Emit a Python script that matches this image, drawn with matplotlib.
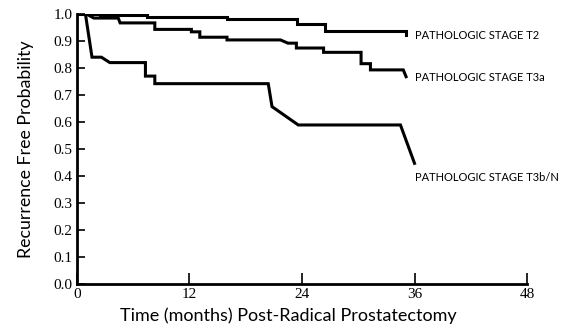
import numpy as np
import matplotlib
matplotlib.use("Agg")
import matplotlib.pyplot as plt

# curves (months, probability); repeated times give the vertical drops
t2_time = [0, 2.5, 2.5, 7.5, 7.5, 16, 16, 23.5, 23.5, 26.5, 26.5, 35.1, 35.1]
t2_prob = [1.0, 1.0, 0.995, 0.995, 0.99, 0.99, 0.98, 0.98, 0.962, 0.962, 0.938, 0.938, 0.923]

t3a_time = [0, 1.0, 1.8, 4.4, 4.6, 8.3, 8.3, 12.2, 12.2, 13.1, 13.1, 16, 16, 21.7, 22.5,
            23.4, 23.4, 26.3, 26.3, 30.3, 30.3, 31.3, 31.3, 34.8, 35.1]
t3a_prob = [1.0, 1.0, 0.985, 0.985, 0.967, 0.967, 0.943, 0.943, 0.934, 0.934, 0.914, 0.914,
            0.904, 0.904, 0.892, 0.892, 0.874, 0.874, 0.858, 0.858, 0.816, 0.816, 0.793, 0.793, 0.768]

t3b_time = [0, 0.9, 1.6, 2.6, 3.5, 7.3, 7.3, 8.3, 8.3, 20.4, 20.8, 23.6, 34.5, 36.0]
t3b_prob = [1.0, 1.0, 0.84, 0.84, 0.82, 0.82, 0.77, 0.77, 0.742, 0.742, 0.657, 0.589, 0.589, 0.447]

series = [
    (t2_time, t2_prob, "PATHOLOGIC STAGE T2", 0.922),
    (t3a_time, t3a_prob, "PATHOLOGIC STAGE T3a", 0.763),
    (t3b_time, t3b_prob, "PATHOLOGIC STAGE T3b/N", 0.396),
]
label_x = 36.0

x_ticks = [0, 12, 24, 36, 48]
y_ticks = np.round(np.arange(0, 1.01, 0.1), 1)

fig = plt.figure(figsize=(5.78, 3.31), dpi=100)
ax = fig.add_axes([0.1332, 0.142, 0.7786, 0.8157])

for t, p, name, ly in series:
    ax.plot(t, p, color="black", lw=2.2, solid_joinstyle="miter")
    ax.text(label_x, ly, name, fontsize=8, family="Lato", va="center", ha="left")

ax.set_xlim(0, 48)
ax.set_ylim(0, 1.0)
ax.set_xticks(x_ticks)
ax.set_yticks(y_ticks)
ax.set_xticklabels([str(v) for v in x_ticks], family="Liberation Serif", fontsize=11)
ax.set_yticklabels(["%.1f" % v for v in y_ticks], family="Liberation Serif", fontsize=11)
ax.tick_params(axis="x", direction="in", length=8, width=1.2, pad=3)
ax.tick_params(axis="y", direction="in", length=6, width=1.2, pad=3)

for s in ["top", "right"]:
    ax.spines[s].set_visible(False)
for s in ["left", "bottom"]:
    ax.spines[s].set_linewidth(2)

ax.set_xlabel("Time (months) Post-Radical Prostatectomy", family="Lato", fontsize=13)
ax.xaxis.set_label_coords(0.47, -0.088, transform=ax.transAxes)
ax.xaxis.label.set_va("top")
ax.set_ylabel("Recurrence Free Probability", family="Lato", fontsize=12.8, labelpad=14)

fig.savefig("out.png", dpi=100)
